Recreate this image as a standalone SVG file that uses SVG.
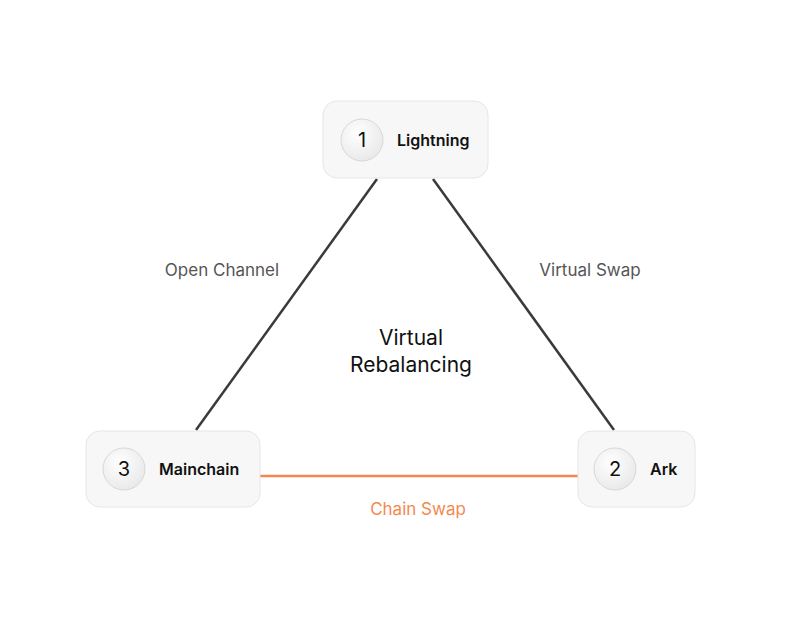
<svg xmlns="http://www.w3.org/2000/svg" width="800" height="623" viewBox="0 0 800 623">
<defs>
<style>
.box{fill:#f7f7f7;stroke:#e6e6e6;stroke-width:1}
.circ{fill:url(#cg);stroke:#d8d8d8;stroke-width:1}
.num{font-family:Inter,"Liberation Sans",sans-serif;font-size:20px;fill:#111;text-anchor:middle}
.lbl{font-family:Inter,"Liberation Sans",sans-serif;font-size:16px;font-weight:600;fill:#111}
.edge{font-family:Inter,"Liberation Sans",sans-serif;font-size:17px;fill:#555;text-anchor:middle}
.orange{fill:#f5884f}
</style>
<radialGradient id="cg" cx="0.4" cy="0.35" r="0.7"><stop offset="0" stop-color="#ffffff"/><stop offset="1" stop-color="#e8e8e8"/></radialGradient>
</defs>
<rect width="800" height="623" fill="#fff"/>
<g id="connectors" stroke-width="2.5" fill="none">
<line x1="377" y1="179" x2="196" y2="430" stroke="#3a3a3a"/>
<line x1="433" y1="179" x2="614" y2="430" stroke="#3a3a3a"/>
<line x1="260" y1="476" x2="578" y2="476" stroke="#f5884f"/>
<text class="edge" x="222" y="276" stroke="none">Open Channel</text>
<text class="edge" x="590" y="276" stroke="none">Virtual Swap</text>
<text class="edge orange" x="418" y="515" stroke="none">Chain Swap</text>
</g>
<g id="center"><text x="411" y="345" font-family="Inter,'Liberation Sans',sans-serif" font-size="21" text-anchor="middle" fill="#111">Virtual</text><text x="411" y="372" font-family="Inter,'Liberation Sans',sans-serif" font-size="21" text-anchor="middle" fill="#111">Rebalancing</text></g>
<g id="n1"><rect class="box" x="323" y="101" width="165" height="77" rx="14"/><circle class="circ" cx="362" cy="140" r="21"/><text class="num" x="362" y="147">1</text><text class="lbl" x="397" y="146">Lightning</text></g>
<g id="n3"><rect class="box" x="86" y="431" width="174" height="76" rx="14"/><circle class="circ" cx="124" cy="469" r="21"/><text class="num" x="124" y="476">3</text><text class="lbl" x="159" y="475">Mainchain</text></g>
<g id="n2"><rect class="box" x="578" y="431" width="117" height="76" rx="14"/><circle class="circ" cx="615" cy="469" r="21"/><text class="num" x="615" y="476">2</text><text class="lbl" x="650" y="475">Ark</text></g>
</svg>
